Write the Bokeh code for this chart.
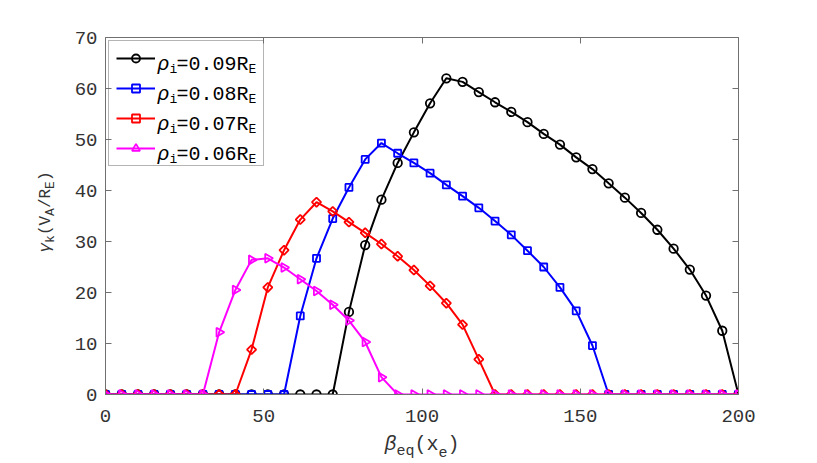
import math
from bokeh.plotting import figure
from bokeh.models import (Range1d, LinearAxis, Legend, LegendItem, Label,
                          FixedTicker, CustomJSTickFormatter, ColumnDataSource)
from bokeh.embed import file_html
from bokeh.resources import INLINE

# ---------------- data ----------------
beta_eq = [0.0, 5.13, 10.26, 15.38, 20.51, 25.64, 30.77, 35.9, 41.03, 46.15,
           51.28, 56.41, 61.54, 66.67, 71.79, 76.92, 82.05, 87.18, 92.31, 97.44,
           102.56, 107.69, 112.82, 117.95, 123.08, 128.21, 133.33, 138.46, 143.59, 148.72,
           153.85, 158.97, 164.1, 169.23, 174.36, 179.49, 184.62, 189.74, 194.87, 200.0]

gamma_009 = [0, 0, 0, 0, 0, 0, 0, 0, 0, 0,
             0, 0, 0, 0, 0, 16.2, 29.3, 38.2, 45.4, 51.4,
             57.1, 62.0, 61.3, 59.3, 57.3, 55.4, 53.4, 51.1, 49.0, 46.5,
             44.2, 41.4, 38.6, 35.6, 32.3, 28.6, 24.5, 19.4, 12.5, 0]
gamma_008 = [0, 0, 0, 0, 0, 0, 0, 0, 0, 0,
             0, 0, 15.4, 26.7, 34.5, 40.6, 46.1, 49.3, 47.3, 45.4,
             43.4, 41.1, 38.9, 36.6, 34.0, 31.3, 28.2, 25.0, 21.0, 16.4,
             9.6, 0, 0, 0, 0, 0, 0, 0, 0, 0]
gamma_007 = [0, 0, 0, 0, 0, 0, 0, 0, 0, 8.8,
             21.0, 28.3, 34.3, 37.7, 35.9, 33.8, 31.7, 29.5, 27.1, 24.4,
             21.3, 17.9, 13.7, 6.9, 0, 0, 0, 0, 0, 0,
             0, 0, 0, 0, 0, 0, 0, 0, 0, 0]
gamma_006 = [0, 0, 0, 0, 0, 0, 0, 12.2, 20.5, 26.4,
             26.7, 24.9, 22.6, 20.3, 17.6, 14.5, 10.3, 3.4, 0, 0,
             0, 0, 0, 0, 0, 0, 0, 0, 0, 0,
             0, 0, 0, 0, 0, 0, 0, 0, 0, 0]

legend_values = ["0.09", "0.08", "0.07", "0.06"]
x_ticks = [0, 50, 100, 150, 200]
y_ticks = [0, 10, 20, 30, 40, 50, 60, 70]

FONT = "Liberation Mono"
TXT = "#333333"
AX = "#707070"

p = figure(frame_width=633, frame_height=357,
           min_border_left=105, min_border_top=37,
           min_border_right=77, min_border_bottom=67,
           x_range=Range1d(0, 200), y_range=Range1d(0, 70),
           output_backend="svg", toolbar_location=None,
           background_fill_color="white", border_fill_color="white")
p.outline_line_color = None
p.grid.visible = False

for ax in (p.xaxis[0], p.yaxis[0]):
    ax.axis_line_color = AX
    ax.major_tick_line_color = AX
    ax.major_tick_in = 6
    ax.major_tick_out = 0
    ax.minor_tick_line_color = None
    ax.major_label_text_font = FONT
    ax.major_label_text_font_size = "19px"
    ax.major_label_text_color = TXT
p.xaxis[0].ticker = FixedTicker(ticks=x_ticks)
p.yaxis[0].ticker = FixedTicker(ticks=y_ticks)
p.xaxis[0].major_label_standoff = 15
p.yaxis[0].major_label_standoff = 8

blank = CustomJSTickFormatter(code="return ''")
top_ax = LinearAxis(ticker=FixedTicker(ticks=x_ticks), formatter=blank)
right_ax = LinearAxis(ticker=FixedTicker(ticks=y_ticks), formatter=blank)
for ax in (top_ax, right_ax):
    ax.axis_line_color = AX
    ax.major_tick_line_color = AX
    ax.major_tick_in = 6
    ax.major_tick_out = 0
    ax.minor_tick_line_color = None
    ax.major_label_standoff = 0
p.add_layout(top_ax, "above")
p.add_layout(right_ax, "right")

series = [
    (gamma_009, "black", "circle", 8.5, 0.0),
    (gamma_008, "#0000ff", "square", 7, 0.0),
    (gamma_007, "#ff0000", "square", 6.5, math.pi / 4),
    (gamma_006, "#ff00ff", "triangle", 9, -math.pi / 2),
]
items = []
for vals, col, mk, sz, ang in series:
    src = ColumnDataSource(dict(x=beta_eq, y=vals, ang=[ang] * len(vals)))
    lr = p.line("x", "y", source=src, line_color=col, line_width=2)
    sr = p.scatter("x", "y", source=src, marker=mk, size=sz, angle="ang",
                   line_color=col, line_width=1.8, fill_color=None)
    items.append(LegendItem(label=" ", renderers=[lr, sr], index=0))

leg = Legend(items=items, location="top_left", margin=3, padding=7,
             spacing=10, glyph_width=39, glyph_height=20, label_height=20,
             label_width=96, label_standoff=5,
             label_text_font_size="8px",
             border_line_color="#6a6a6a", border_line_width=1,
             background_fill_color=None, background_fill_alpha=0.0)
p.add_layout(leg, "center")

# All text pieces go into the bottom side panel (not clipped; growth below is harmless).
def add_text(txt, x, y, xo, yo, fs, st="normal", col=TXT, angle=0.0):
    p.add_layout(Label(x=x, y=y, x_offset=xo, y_offset=yo, text=txt,
                       text_font=FONT, text_font_size=fs, text_font_style=st,
                       text_color=col, angle=angle, text_align="left",
                       text_baseline="alphabetic"), "below")

# legend texts  rho_i = 0.0xR_E
for k, v in enumerate(legend_values):
    yb = -26.5 - 30 * k
    add_text("ρ", 0, 70, 52, yb, "20px", "italic", "black")
    add_text("i", 0, 70, 64, yb - 5.5, "13px", "normal", "black")
    add_text("=" + v + "R", 0, 70, 71, yb, "20px", "normal", "black")
    add_text("E", 0, 70, 143, yb - 5.5, "13px", "normal", "black")

# x axis label  beta_eq(x_e)
xpieces = [("β", 0, "italic"), ("eq", 1, "normal"), ("(x", 0, "normal"),
           ("e", 1, "normal"), (")", 0, "normal")]
xo = 279.0
for txt, sub, st in xpieces:
    add_text(txt, 0, 0, xo, -57 if sub else -50, "15px" if sub else "20px", st)
    xo += (9.0 if sub else 12.0) * len(txt)

# y axis label  gamma_k(V_A/R_E)
ypieces = [("γ", 0, "italic"), ("k", 1, "normal"), ("(V", 0, "normal"),
           ("A", 1, "normal"), ("/R", 0, "normal"), ("E", 1, "normal"),
           (")", 0, "normal")]
yo = 142.0
for txt, sub, st in ypieces:
    add_text(txt, 0, 0, -55 if sub else -60, yo, "13px" if sub else "16px", st,
             angle=math.pi / 2)
    yo += (7.8 if sub else 9.6) * len(txt)

open("out.html", "w").write(file_html(p, INLINE))
